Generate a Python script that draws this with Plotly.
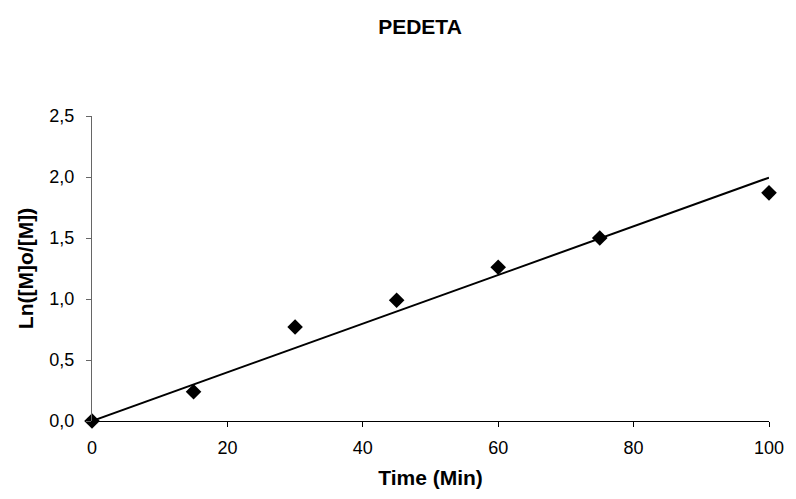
import numpy as np
import plotly.graph_objects as go

time_min = [0, 15, 30, 45, 60, 75, 100]
ln_ratio = [0.0, 0.24, 0.77, 0.99, 1.26, 1.50, 1.87]
x_ticks = [0, 20, 40, 60, 80, 100]
y_ticks = [0.0, 0.5, 1.0, 1.5, 2.0, 2.5]
y_tick_text = ["0,0", "0,5", "1,0", "1,5", "2,0", "2,5"]

# linear trendline forced through the origin (as in the spreadsheet)
t = np.array(time_min, dtype=float)
y = np.array(ln_ratio, dtype=float)
slope = float((t * y).sum() / (t * t).sum())
trend_x = [0, 100]
trend_y = [slope * v for v in trend_x]

font = "Liberation Sans, Arial, sans-serif"

fig = go.Figure()
fig.add_trace(go.Scatter(x=trend_x, y=trend_y, mode="lines",
                         line=dict(color="black", width=2), showlegend=False))
fig.add_trace(go.Scatter(x=time_min, y=ln_ratio, mode="markers",
                         marker=dict(symbol="diamond", size=12, color="black"),
                         showlegend=False, cliponaxis=False))

fig.update_layout(
    width=796, height=499,
    margin=dict(l=92, r=20, t=116, b=78),
    paper_bgcolor="white", plot_bgcolor="white",
    font=dict(family=font, color="black", size=18),
    title=dict(text="<b>PEDETA</b>", x=420 / 796, xanchor="center",
               y=1 - 27 / 499, yanchor="middle",
               font=dict(size=21, family=font)),
    xaxis=dict(range=[0, 100], tickvals=x_ticks, showgrid=False, zeroline=False,
               showline=True, linecolor="black", linewidth=1,
               ticks="outside", ticklen=5, tickcolor="black",
               ticklabelstandoff=5,
               title=dict(text="<b>Time (Min)</b>", font=dict(size=21), standoff=13)),
    yaxis=dict(range=[0, 2.5], tickvals=y_ticks, ticktext=y_tick_text,
               showgrid=False, zeroline=False,
               showline=True, linecolor="#666666", linewidth=1,
               ticks="outside", ticklen=5, tickcolor="#666666",
               ticklabelstandoff=8,
               title=dict(text="<b>Ln([M]o/[M])</b>", font=dict(size=21), standoff=10)),
)

fig.write_html("out.html")
